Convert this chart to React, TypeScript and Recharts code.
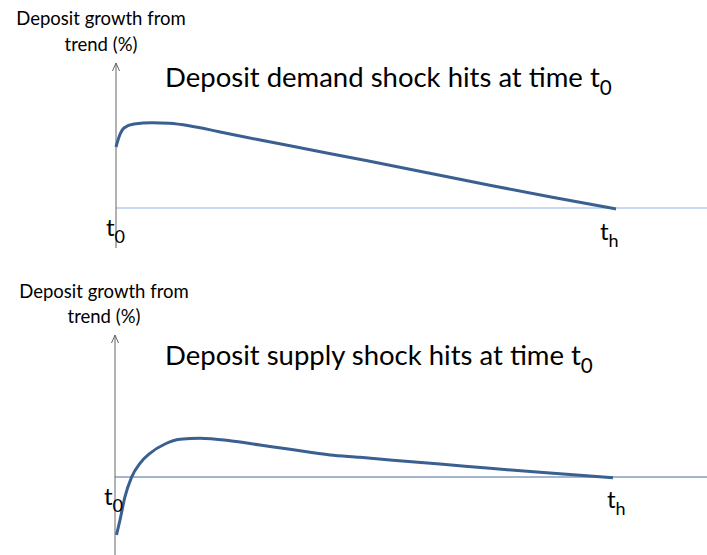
import { Line, LineChart, ReferenceLine, XAxis, YAxis } from 'recharts'

// demand shock response (x: time units, y: deviation from trend)
const demandTime = [0, 0.6, 1.6, 3.6, 7.2, 10.6, 14.6, 20.6, 28.6, 38.6, 50, 62, 75, 87, 100]
const demandGrowth = [61, 71, 80, 84, 85.3, 84.7, 82.3, 76.3, 68.2, 58.5, 47.5, 35.5, 22.5, 11, -1]

// supply shock response
const supplyTime = [0.3, 1, 2, 3.3, 5, 7, 10, 13, 17, 23, 29, 35, 39, 43, 49, 55, 65, 75, 85, 99.6]
const supplyGrowth = [-58, -43, -19.7, -0.3, 13.7, 23.7, 33, 37.7, 38.7, 36.3, 32, 27.7, 24.7, 22, 19.7, 17, 13, 8.7, 4.7, -0.7]

const yTitle = ['Deposit growth from', 'trend (%)']
const demandTitle = 'Deposit demand shock hits at time '
const supplyTitle = 'Deposit supply shock hits at time '

const demandData = demandTime.map((t, i) => ({ t, v: demandGrowth[i] }))
const supplyData = supplyTime.map((t, i) => ({ t, v: supplyGrowth[i] }))

const CURVE = '#3a5f91'
const FONT = 'Lato, "Open Sans", sans-serif'

function ArrowAxis(props: any) {
  const { x1, y1, y2 } = props
  const top = Math.min(y1, y2)
  const bottom = Math.max(y1, y2)
  return (
    <g>
      <line x1={x1} y1={top} x2={x1} y2={bottom} stroke="#666" strokeWidth={1} />
      <path
        d={`M${x1 - 3.5},${top + 8} L${x1},${top} L${x1 + 3.5},${top + 8}`}
        fill="none"
        stroke="#666"
        strokeWidth={1}
      />
    </g>
  )
}

function SubText({ x, y, base, sub, size }: { x: number; y: number; base: string; sub: string; size: number }) {
  return (
    <text x={x} y={y} fontSize={size} fontFamily={FONT} fill="#000">
      {base}
      <tspan dy={size * 0.28} fontSize={size * 0.75}>
        {sub}
      </tspan>
    </text>
  )
}

export default function App() {
  return (
    <div style={{ position: 'absolute', left: 0, top: 0, width: 707, height: 555, background: '#fff' }}>
      <div style={{ position: 'absolute', left: 0, top: 0 }}>
        <LineChart width={707} height={270} data={demandData} margin={{ top: 63, right: 0, bottom: 22, left: 116 }}>
          <XAxis dataKey="t" type="number" domain={[0, 118.2]} hide />
          <YAxis type="number" domain={[-40, 145]} hide />
          <ReferenceLine y={0} stroke="#8db3e2" strokeWidth={1.2} />
          <ReferenceLine x={0} shape={ArrowAxis} />
          <Line
            dataKey="v"
            type="monotone"
            stroke={CURVE}
            strokeWidth={3}
            dot={false}
            isAnimationActive={false}
          />
        </LineChart>
      </div>
      <div style={{ position: 'absolute', left: 0, top: 270 }}>
        <LineChart width={707} height={285} data={supplyData} margin={{ top: 65, right: 0, bottom: 0, left: 115 }}>
          <XAxis dataKey="t" type="number" domain={[0, 118.4]} hide />
          <YAxis type="number" domain={[-78, 142]} hide />
          <ReferenceLine y={0} stroke="#4a6f9e" strokeWidth={1.2} />
          <ReferenceLine x={0} shape={ArrowAxis} />
          <Line
            dataKey="v"
            type="monotone"
            stroke={CURVE}
            strokeWidth={3}
            dot={false}
            isAnimationActive={false}
          />
        </LineChart>
      </div>
      <svg width={707} height={555} style={{ position: 'absolute', left: 0, top: 0, pointerEvents: 'none' }}>
        <text x={101} y={25} fontSize={18.5} fontFamily={FONT} textAnchor="middle">{yTitle[0]}</text>
        <text x={101} y={51} fontSize={18.5} fontFamily={FONT} textAnchor="middle">{yTitle[1]}</text>
        <SubText x={165} y={87} base={demandTitle + 't'} sub="0" size={27.5} />
        <SubText x={106} y={236} base="t" sub="0" size={24} />
        <SubText x={600} y={240} base="t" sub="h" size={24} />

        <text x={104} y={298} fontSize={18.5} fontFamily={FONT} textAnchor="middle">{yTitle[0]}</text>
        <text x={104} y={323} fontSize={18.5} fontFamily={FONT} textAnchor="middle">{yTitle[1]}</text>
        <SubText x={165} y={365} base={supplyTitle + 't'} sub="0" size={27.5} />
        <SubText x={104} y={505} base="t" sub="0" size={24} />
        <SubText x={607} y={508} base="t" sub="h" size={24} />
      </svg>
    </div>
  )
}
